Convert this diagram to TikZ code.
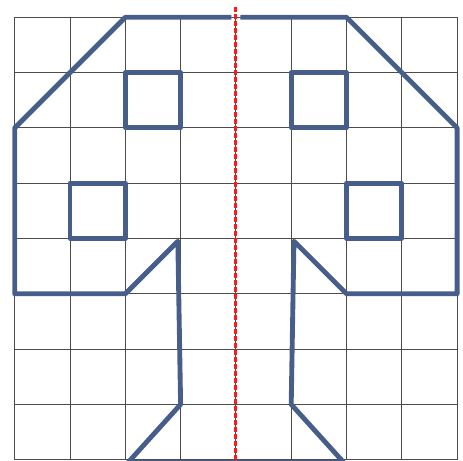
\documentclass[tikz,border=0pt]{standalone}
\definecolor{outline}{RGB}{72,94,138}
\begin{document}
\begin{tikzpicture}[outer/.style={draw=outline,line width=2.5pt,line join=round},
  axis/.style={draw=red!90!white,line width=1.5pt,dash pattern=on 2.6pt off 1pt}]
\useasboundingbox (-0.266,-0.02) rectangle (8.107,8.313);
\draw[gray!60!black,line width=0.5pt] (0,0) grid (8,8);
\draw[outer] (3.92,8)--(2,8)--(0,6)--(0,3)--(2,3)--(2.95,3.95)--(3,1)--(2.05,-0.05)--(5.95,-0.05)--(5,1)--(5.05,3.95)--(6,3)--(8,3)--(8,6)--(6,8)--(4.08,8);
\draw[outer] (2,6) rectangle (3,7);
\draw[outer] (5,6) rectangle (6,7);
\draw[outer] (1,4) rectangle (2,5);
\draw[outer] (6,4) rectangle (7,5);
\draw[axis] (3.99,8.19)--(3.99,0);
\end{tikzpicture}
\end{document}
